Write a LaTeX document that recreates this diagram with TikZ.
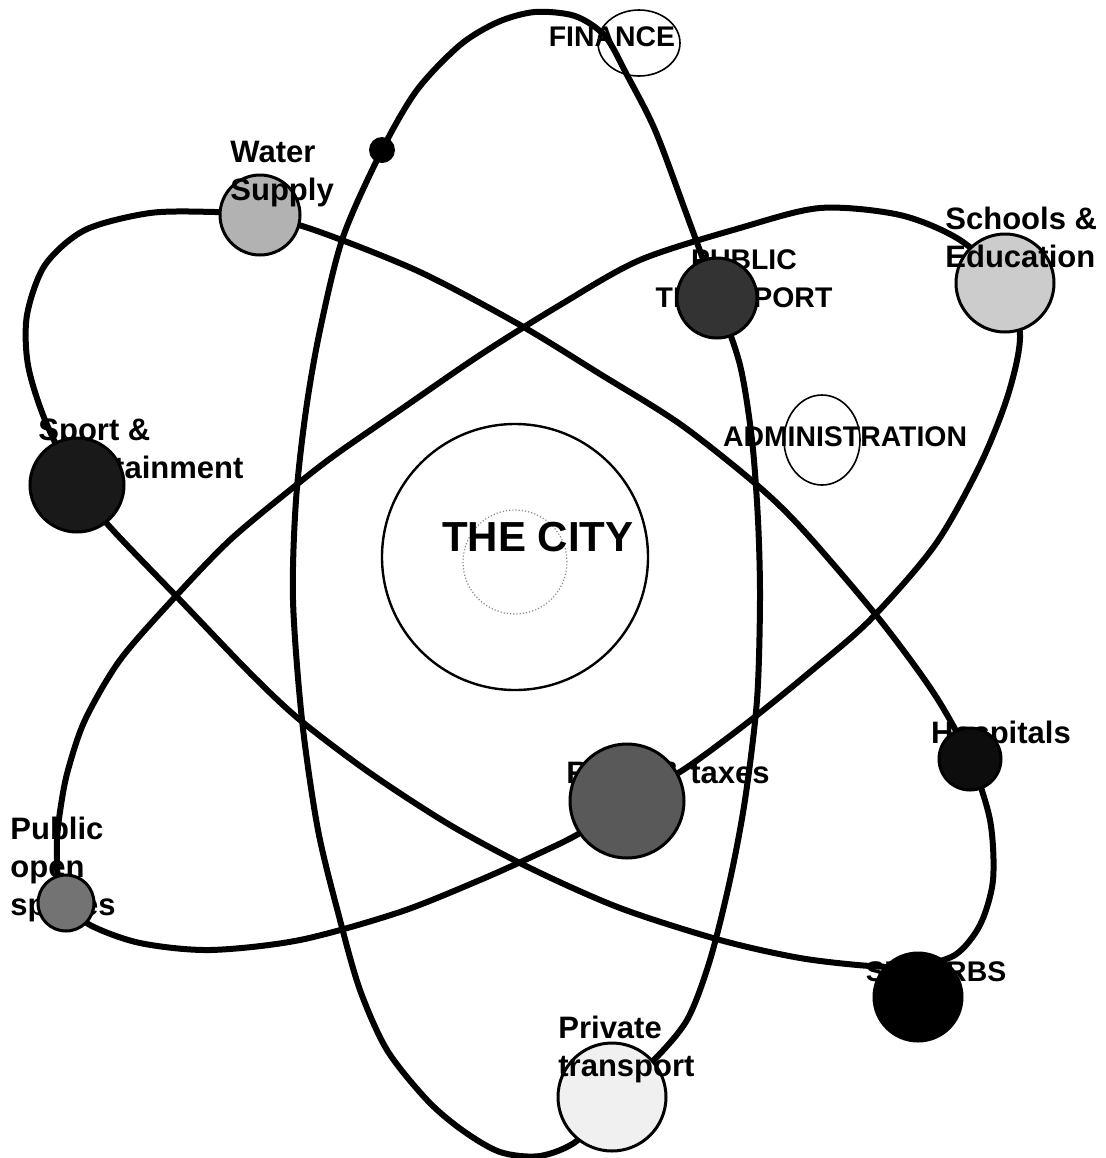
\documentclass[tikz,border=0pt]{standalone}
\usepackage{fontspec}
\setmainfont{Liberation Sans}
\usetikzlibrary{shapes.geometric}
\begin{document}
\begin{tikzpicture}[x=0.5pt,y=-0.5pt,
  orbit/.style={line width=3pt, line join=round},
  planet/.style={circle, draw=black, line width=1.5pt, inner sep=0pt},
  ring/.style={ellipse, draw=black, line width=0.8pt, inner sep=0pt},
  lbl/.style={font=\bfseries\fontsize{15.5}{19}\selectfont, inner sep=0pt, align=left},
  caps/.style={font=\bfseries\fontsize{14.2}{19}\selectfont, inner sep=0pt, align=center},
]
\useasboundingbox[fill=white] (0,0) rectangle (1105,1158);

% orbit centres of the planets
\coordinate (cWater) at (260,215);
\coordinate (cSport) at (77,485);
\coordinate (cHosp) at (970,759);
\coordinate (cSchools) at (1005,283);
\coordinate (cPos) at (66,903);
\coordinate (cRates) at (627,801);
\coordinate (cPtrans) at (717,298);
\coordinate (cPrivate) at (612,1097);

% vertical orbit
\draw[orbit] plot[smooth cycle] coordinates {
  (535,12) (575,16) (605,36) (627,75) (655,130) (685,210) (cPtrans) (740,365)
  (752,440) (758,520) (760,600) (757,700) (745,800) (730,880) (710,960)
  (687,1020) (652,1062) (cPrivate) (578,1140) (540,1156) (500,1152) (462,1130)
  (427,1100) (387,1050) (360,990) (340,920) (318,830) (302,720) (293,600)
  (296,500) (306,410) (320,330) (343,237) (382,150) (417,90) (460,45) (498,22)};

% orbit from Water supply to SUBURBS
\draw[orbit] plot[smooth cycle] coordinates {
  (cWater) (320,232) (420,272) (520,325) (600,374) (680,424) (757,485) (805,532)
  (880,620) (935,695) (cHosp) (990,820) (993,880) (980,925) (955,955) (915,966)
  (870,966) (800,958) (720,940) (620,908) (530,868) (450,825) (370,773)
  (300,720) (250,673) (180,600) (110,527) (cSport) (45,420) (28,365) (27,315)
  (45,265) (85,230) (150,213) (215,212)};

% orbit from Schools to Public open spaces
\draw[orbit] plot[smooth cycle] coordinates {
  (cSchools) (960,240) (900,215) (820,208) (740,228) (640,260) (560,305)
  (480,355) (400,410) (335,455) (290,490) (230,540) (175,597) (120,660)
  (85,720) (68,770) (61,805) (57,840) (58,880) (cPos) (90,925) (140,943)
  (210,950) (300,940) (400,912) (480,880) (540,853) (580,833) (cRates)
  (683,770) (747,723) (810,672) (870,620) (935,545) (980,465) (1008,395)
  (1020,335)};

% labels under the dark planets
\node[lbl, anchor=west] (lSport) at (38,449) {Sport \&\\entertainment};
\node[caps] (lPtrans) at (744,279) {PUBLIC\\TRANSPORT};
\node[lbl] (lRates) at (668,773) {Rates \& taxes};
\node[lbl, anchor=west, text depth=0pt] (lPos) at (10,866) {Public\\open\\spaces};
\node[caps] (lSuburbs) at (936,972) {SUBURBS};
\node[lbl] (lHosp) at (1001,735) {Hospitals};

% the city
\node[circle, draw=black, line width=1.2pt, minimum size=133pt, inner sep=0pt] (city) at (515,557) {};
\node[circle, draw=black!45, densely dotted, line width=0.6pt, minimum size=52pt, inner sep=0pt] (cityin) at (515,562) {};
\node[font=\bfseries\fontsize{21}{24}\selectfont, inner sep=0pt] (lCity) at (538,537) {THE CITY};

% planets
\node[circle, fill=black, inner sep=0pt, minimum size=13pt] (dot) at (382,150) {};
\node[planet, fill=black!30, minimum size=40pt] (water) at (cWater) {};
\node[planet, fill=black!90, minimum size=47pt] (sport) at (cSport) {};
\node[planet, fill=black!80, minimum size=40pt] (ptrans) at (cPtrans) {};
\node[planet, fill=black!20, minimum size=49pt] (schools) at (cSchools) {};
\node[planet, fill=black!95, minimum size=31pt] (hosp) at (cHosp) {};
\node[planet, fill=black!65, minimum size=57pt] (rates) at (cRates) {};
\node[planet, fill=black!55, minimum size=28pt] (pos) at (cPos) {};
\node[planet, fill=black, minimum size=44pt] (suburbs) at (918,997) {};
\node[planet, fill=black!6, minimum size=54pt] (private) at (cPrivate) {};
\node[ring, minimum width=41pt, minimum height=33pt] (finance) at (639,43) {};
\node[ring, minimum width=38pt, minimum height=45pt] (admin) at (822,440) {};

% labels above the light planets
\node[lbl, anchor=west] (lWater) at (230,174) {Water\\Supply};
\node[lbl, anchor=west] (lSchools) at (945,237) {Schools \&\\Education};
\node[lbl, anchor=west] (lPrivate) at (558,1049) {Private\\transport};
\node[caps] (lFinance) at (612,37) {FINANCE};
\node[caps] (lAdmin) at (845,437) {ADMINISTRATION};
\end{tikzpicture}
\end{document}
